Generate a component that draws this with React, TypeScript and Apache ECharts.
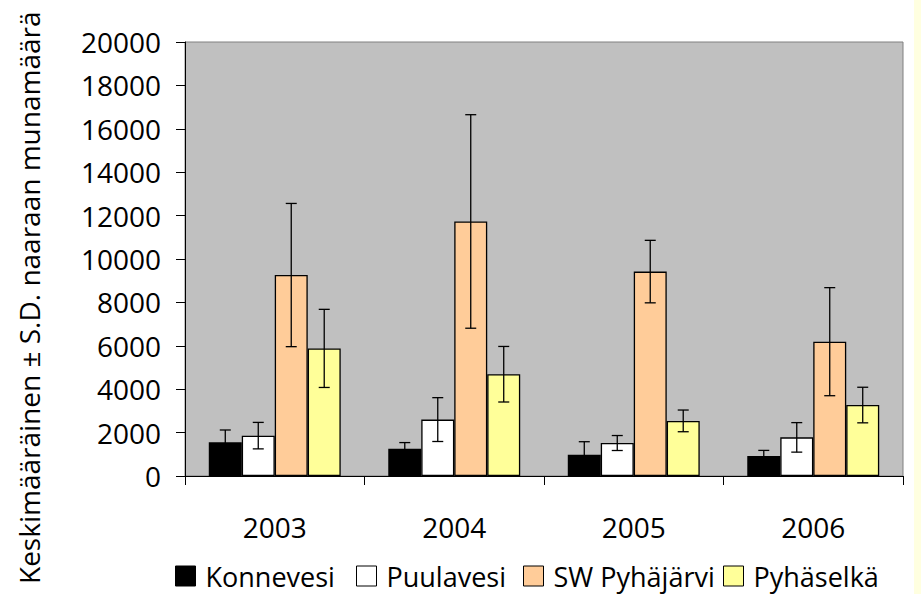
import React, { useEffect, useRef } from "react";
import * as echarts from "echarts";

const years = ["2003", "2004", "2005", "2006"];
const seriesNames = ["Konnevesi", "Puulavesi", "SW Pyhäjärvi", "Pyhäselkä"];
const konnevesi = [1550, 1260, 980, 920];
const konnevesiSD = [570, 280, 600, 260];
const puulavesi = [1860, 2600, 1520, 1780];
const puulavesiSD = [610, 1010, 345, 680];
const swPyhajarvi = [9260, 11730, 9420, 6190];
const swPyhajarviSD = [3300, 4920, 1440, 2490];
const pyhaselka = [5880, 4690, 2540, 3270];
const pyhaselkaSD = [1800, 1280, 500, 820];
const colors = ["#000000", "#FFFFFF", "#FFCC99", "#FFFF99"];
const yTitle = "Keskimääräinen ± S.D. naaraan munamäärä";

const FONT = "'Open Sans', sans-serif";
const BAR_FRACTION = 0.735;
const legendLefts = [170, 351, 518, 718];

export default function App() {
  const ref = useRef<HTMLDivElement>(null);
  useEffect(() => {
    if (!ref.current) return;
    const chart = echarts.init(ref.current, null, { renderer: "svg" });
    const means = [konnevesi, puulavesi, swPyhajarvi, pyhaselka];
    const sds = [konnevesiSD, puulavesiSD, swPyhajarviSD, pyhaselkaSD];

    const barSeries = seriesNames.map((name, k) => ({
      name,
      type: "bar",
      data: means[k],
      barGap: "0%",
      barCategoryGap: `${(1 - BAR_FRACTION) * 100}%`,
      itemStyle: { color: colors[k], borderColor: "#000", borderWidth: 1.3 },
      z: 2,
    }));

    const errSeries = seriesNames.map((name, k) => ({
      name: "err" + k,
      type: "custom",
      z: 5,
      data: means[k].map((v, i) => [i, v, sds[k][i]]),
      renderItem: (params: any, api: any) => {
        const xi = api.value(0);
        const val = api.value(1);
        const sd = api.value(2);
        const base = api.coord([xi, 0]);
        const bandW = api.size([1, 0])[0];
        const barW = (bandW * BAR_FRACTION) / 4;
        const cx = base[0] + (k - 1.5) * barW;
        const yTop = api.coord([xi, val + sd])[1];
        const yBot = api.coord([xi, val - sd])[1];
        const half = 5.5;
        const st = { stroke: "#000", lineWidth: 1.3 };
        return {
          type: "group",
          children: [
            { type: "line", shape: { x1: cx, y1: yTop, x2: cx, y2: yBot }, style: st },
            { type: "line", shape: { x1: cx - half, y1: yTop, x2: cx + half, y2: yTop }, style: st },
            { type: "line", shape: { x1: cx - half, y1: yBot, x2: cx + half, y2: yBot }, style: st },
          ],
        };
      },
    }));

    const legends = seriesNames.map((name, k) => ({
      data: [name],
      left: legendLefts[k],
      top: 557,
      icon: "rect",
      itemWidth: 20,
      itemHeight: 20,
      textStyle: {
        fontSize: 27,
        lineHeight: 28,
        color: "#000",
        fontFamily: FONT,
        padding: [0, 0, 0, 5],
      },
      itemStyle: { borderColor: "#000", borderWidth: 1 },
    }));

    chart.setOption({
      animation: false,
      backgroundColor: "#FFFFFF",
      textStyle: { fontFamily: FONT },
      grid: {
        left: 185,
        top: 42,
        right: 18,
        bottom: 118,
        show: true,
        backgroundColor: "#C0C0C0",
        borderColor: "#808080",
        borderWidth: 1,
      },
      legend: legends,
      xAxis: {
        type: "category",
        data: years,
        axisLine: { lineStyle: { color: "#000", width: 1 } },
        axisTick: { show: true, length: 9, lineStyle: { color: "#000" } },
        axisLabel: { fontSize: 28, color: "#000", margin: 37, fontFamily: FONT },
      },
      yAxis: {
        type: "value",
        min: 0,
        max: 20000,
        interval: 2000,
        axisLine: { show: true, lineStyle: { color: "#000", width: 1 } },
        axisTick: { show: true, length: 9, lineStyle: { color: "#000" } },
        axisLabel: {
          fontSize: 28,
          color: "#000",
          margin: 24,
          fontFamily: FONT,
          formatter: (v: number) => String(v),
        },
        splitLine: { show: false },
      },
      graphic: [
        {
          type: "text",
          x: 29,
          y: 584,
          rotation: Math.PI / 2,
          style: {
            text: yTitle,
            fontSize: 28,
            fontFamily: FONT,
            fill: "#000",
            align: "left",
            verticalAlign: "middle",
          },
        },
        {
          type: "rect",
          shape: { x: 914, y: 0, width: 7, height: 594 },
          style: { fill: "#FFFFE0" },
        },
      ],
      series: [...barSeries, ...errSeries],
    });
    return () => chart.dispose();
  }, []);
  return (
    <div
      ref={ref}
      style={{ position: "absolute", left: 0, top: 0, width: 921, height: 594 }}
    />
  );
}
